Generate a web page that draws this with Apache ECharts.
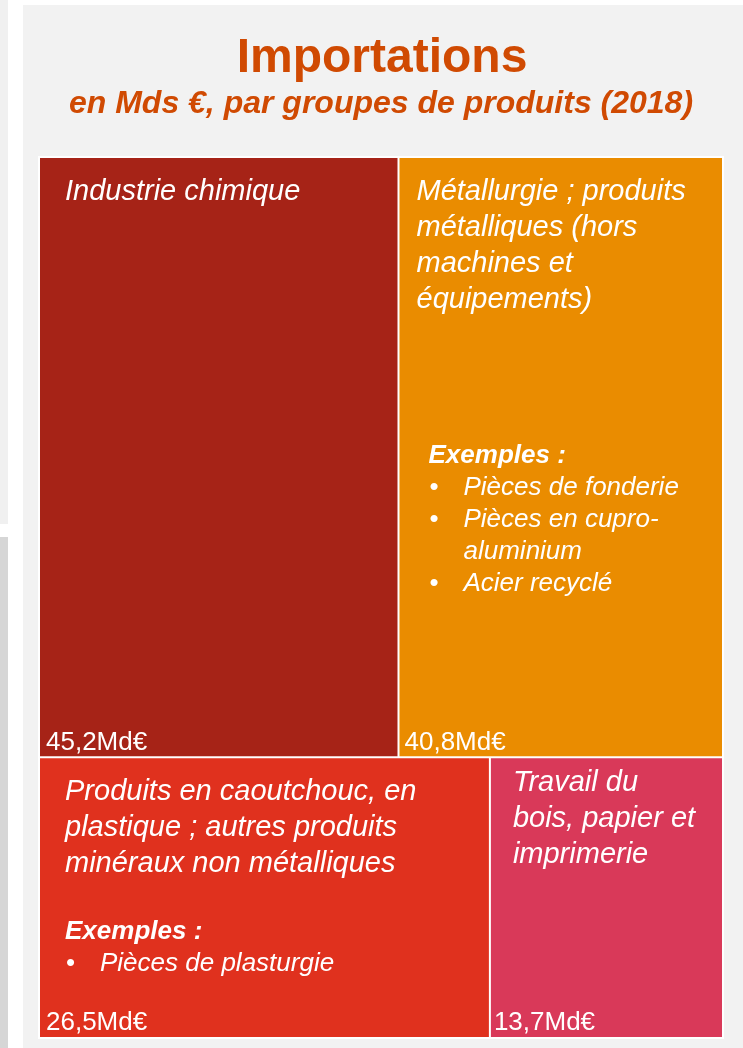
<!DOCTYPE html>
<html>
<head>
<meta charset="utf-8">
<title>Importations</title>
<script src="https://cdn.jsdelivr.net/npm/echarts@6/dist/echarts.min.js"></script>
<style>
  html, body { margin: 0; padding: 0; background: #fff; }
  body { width: 743px; height: 1048px; position: relative; overflow: hidden; }
  .strip { position: absolute; left: 0; width: 8px; }
  .panel { position: absolute; left: 23px; top: 5px; right: 0; bottom: 0; background: #f2f2f2; }
  #chart { position: absolute; left: 0; top: 0; width: 743px; height: 1048px; }
</style>
</head>
<body>
<div class="strip" style="top:0;height:524px;background:#f0f0f0"></div>
<div class="strip" style="top:537px;bottom:0;background:#d6d6d6"></div>
<div class="panel"></div>
<div id="chart"></div>
<script>
// groupes de produits (retours à la ligne comme sur l'original)
const categories = [
  'Industrie chimique',
  'Métallurgie ; produits\nmétalliques (hors\nmachines et\néquipements)',
  'Produits en caoutchouc, en\nplastique ; autres produits\nminéraux non métalliques',
  'Travail du\nbois, papier et\nimprimerie'
];
// importations 2018, en Mds €
const values = [45.2, 40.8, 26.5, 13.7];
const examples = [
  [],
  ['Pièces de fonderie', 'Pièces en cupro-\naluminium', 'Acier recyclé'],
  ['Pièces de plasturgie'],
  []
];

const colors = ['#a62317', '#ea8c00', '#e0311e', '#d93959'];
const namePad = [[16, 0, 0, 25], [16, 0, 0, 17], [16, 0, 0, 25], [7, 0, 0, 22]];
const valuePad = [[0, 0, 1, 6], [0, 0, 1, 5], [0, 0, 1, 6], [0, 0, 1, 3]];
const gapH = [0, 122, 33, 0];
const exIndent = [0, 12, 0, 0];

let rich = {
  name: { fontSize: 29, fontStyle: 'italic', lineHeight: 36, color: '#fff' },
  item: { fontSize: 26, fontStyle: 'italic', lineHeight: 32, color: '#fff' }
};
categories.forEach((c, i) => {
  rich['gap' + i] = { height: gapH[i], lineHeight: gapH[i], fontSize: 1 };
  rich['ex' + i] = {
    fontSize: 26, fontStyle: 'italic', fontWeight: 'bold', lineHeight: 32,
    color: '#fff', padding: [0, 0, 0, exIndent[i]]
  };
  rich['bul' + i] = {
    fontSize: 26, lineHeight: 32, color: '#fff', width: 34,
    padding: [0, 0, 0, exIndent[i] + 1]
  };
});

function nameLabel(i) {
  let out = categories[i].split('\n').map(l => '{name|' + l + '}');
  if (examples[i].length) {
    out.push('{gap' + i + '| }');
    out.push('{ex' + i + '|Exemples :}');
    examples[i].forEach(e => {
      e.split('\n').forEach((l, k) => {
        out.push('{bul' + i + '|' + (k === 0 ? '•' : ' ') + '}{item|' + l + '}');
      });
    });
  }
  return out.join('\n');
}

function fmtValue(v) {
  return String(v).replace('.', ',') + 'Md€';
}

const box = { left: 38, top: 156, width: 686, height: 883 };

const nameData = categories.map((c, i) => ({
  name: c,
  value: values[i],
  itemStyle: { color: colors[i] },
  label: { padding: namePad[i], formatter: nameLabel(i) }
}));
const valueData = categories.map((c, i) => ({
  name: c,
  value: values[i],
  label: { padding: valuePad[i], formatter: fmtValue(values[i]) }
}));

let chart = echarts.init(document.getElementById('chart'));
let option = {
  backgroundColor: 'transparent',
  animation: false,
  title: [
    {
      text: 'Importations',
      left: 377, top: 30, textAlign: 'center',
      textStyle: { fontFamily: 'Liberation Sans', fontSize: 48, fontWeight: 'bold', color: '#d04a02' }
    },
    {
      text: 'en Mds €, par groupes de produits (2018)',
      left: 376, top: 83, textAlign: 'center',
      textStyle: { fontFamily: 'Liberation Sans', fontSize: 32, fontWeight: 'bold', fontStyle: 'italic', color: '#d04a02' }
    }
  ],
  textStyle: { fontFamily: 'Liberation Sans' },
  series: [
    {
      type: 'treemap',
      ...box,
      roam: false,
      nodeClick: false,
      breadcrumb: { show: false },
      emphasis: { disabled: true },
      label: {
        show: true,
        position: 'insideTopLeft',
        distance: 0,
        overflow: 'none',
        fontFamily: 'Liberation Sans',
        rich: rich
      },
      levels: [
        { itemStyle: { borderColor: '#fff', borderWidth: 2, gapWidth: 2 } },
        { itemStyle: { borderWidth: 0 } }
      ],
      data: nameData
    },
    {
      type: 'treemap',
      ...box,
      roam: false,
      nodeClick: false,
      breadcrumb: { show: false },
      emphasis: { disabled: true },
      label: {
        show: true,
        position: 'insideBottomLeft',
        distance: 0,
        fontFamily: 'Liberation Sans',
        fontSize: 26,
        lineHeight: 26,
        color: '#fff'
      },
      levels: [
        { itemStyle: { borderColor: 'transparent', borderWidth: 2, gapWidth: 2 } },
        { itemStyle: { borderWidth: 0, color: 'transparent' } }
      ],
      data: valueData
    }
  ]
};
chart.setOption(option);
</script>
</body>
</html>
